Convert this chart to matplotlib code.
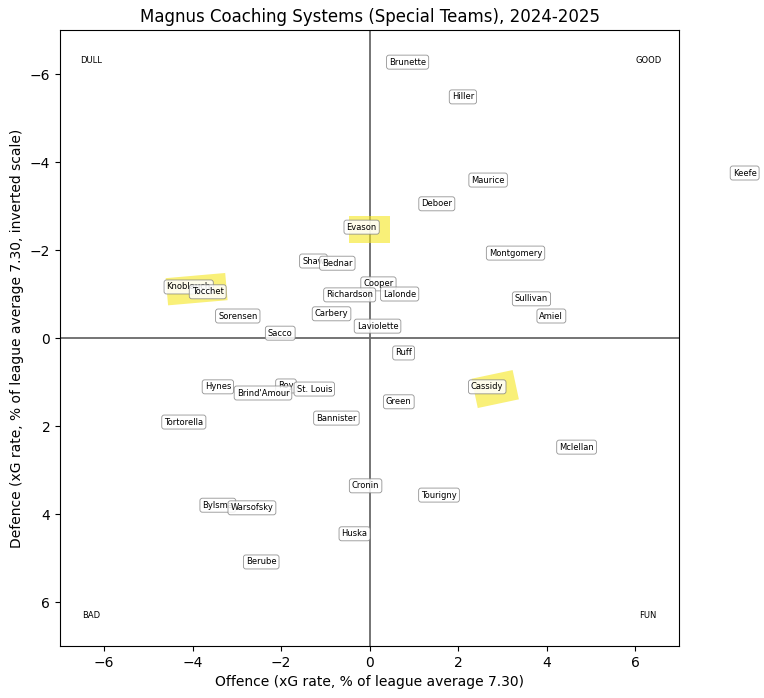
import matplotlib
matplotlib.use("Agg")
import matplotlib.pyplot as plt
from matplotlib.patches import Rectangle

# coach name, offence (x), defence (y, inverted)
coaches = ["Brunette", "Hiller", "Maurice", "Deboer", "Evason", "Montgomery", "Keefe",
           "Shaw", "Bednar", "Knoblauch", "Tocchet", "Cooper", "Richardson", "Lalonde",
           "Sullivan", "Sorensen", "Carbery", "Amiel", "Laviolette", "Sacco", "Ruff",
           "Hynes", "Roy", "Brind'Amour", "St. Louis", "Cassidy", "Green", "Tortorella",
           "Bannister", "Mclellan", "Cronin", "Tourigny", "Bylsma", "Warsofsky", "Huska",
           "Berube"]
offence = [0.86, 2.11, 2.68, 1.52, -0.18, 3.30, 8.48,
           -1.27, -0.73, -4.09, -3.66, 0.20, -0.45, 0.68,
           3.66, -2.98, -0.86, 4.11, 0.18, -2.02, 0.77,
           -3.43, -1.89, -2.41, -1.25, 2.66, 0.66, -4.20,
           -0.75, 4.68, -0.09, 1.57, -3.43, -2.66, -0.34,
           -2.45]
defence = [-6.27, -5.48, -3.59, -3.05, -2.52, -1.93, -3.75,
           -1.75, -1.70, -1.16, -1.05, -1.23, -0.98, -1.00,
           -0.89, -0.50, -0.55, -0.50, -0.27, -0.11, 0.34,
           1.11, 1.09, 1.25, 1.16, 1.11, 1.45, 1.91,
           1.82, 2.48, 3.36, 3.57, 3.80, 3.86, 4.45,
           5.09]

highlighted = ["Evason", "Knoblauch", "Cassidy"]
hl_size = {"Evason": (0.92, 0.62, 0), "Knoblauch": (1.35, 0.62, -5), "Cassidy": (0.95, 0.68, -12)}

quadrants = ["DULL", "GOOD", "BAD", "FUN"]
quad_x = [-6.3, 6.3, -6.3, 6.3]
quad_y = [-6.3, -6.3, 6.3, 6.3]

fig = plt.figure(figsize=(7.64, 6.98), dpi=100)
ax = fig.add_axes([0.0785, 0.0745, 0.8105, 0.8825])

ax.axhline(0, color="dimgray", lw=1.3, zorder=1)
ax.axvline(0, color="dimgray", lw=1.3, zorder=1)

for name in highlighted:
    i = coaches.index(name)
    w, h, ang = hl_size[name]
    cx, cy = offence[i] + 0.18, defence[i] + 0.05
    ax.add_patch(Rectangle((cx - w / 2, cy - h / 2), w, h, angle=ang,
                           rotation_point="center", color="#f5e61e", alpha=0.6,
                           lw=0, zorder=2))

for name, x, y in zip(coaches, offence, defence):
    ax.text(x, y, name, fontsize=6, ha="center", va="center", zorder=3, clip_on=False,
            bbox=dict(boxstyle="round,pad=0.3", fc="white", ec="gray", lw=0.6, alpha=0.85))

for q, x, y in zip(quadrants, quad_x, quad_y):
    ax.text(x, y, q, fontsize=6, ha="center", va="center")

ax.set_xlim(-7, 7)
ax.set_ylim(7, -7)
ax.set_xticks([-6, -4, -2, 0, 2, 4, 6])
ax.set_yticks([-6, -4, -2, 0, 2, 4, 6])
ax.set_title("Magnus Coaching Systems (Special Teams), 2024-2025", fontsize=12)
ax.set_xlabel("Offence (xG rate, % of league average 7.30)")
ax.set_ylabel("Defence (xG rate, % of league average 7.30, inverted scale)")

fig.savefig("out.png", dpi=100)
plt.close(fig)
